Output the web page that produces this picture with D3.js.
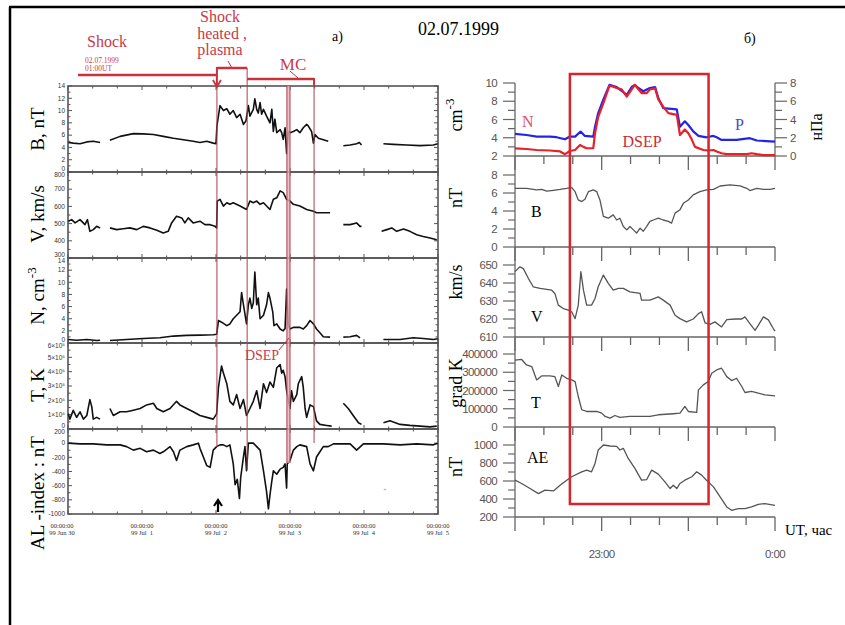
<!DOCTYPE html>
<html>
<head>
<meta charset="utf-8">
<script src="https://cdn.jsdelivr.net/npm/d3@7"></script>
<style>
  body { margin: 0; background: #fff; }
  svg { display: block; }
  text { font-family: "Liberation Serif", "Times New Roman", serif; }
  .tk { font-family: "Liberation Sans", Arial, sans-serif; }
</style>
</head>
<body>
<div id="chart"></div>
<script>
// ---- left panel (a): hours since 30 Jun 1999 00:00 UT, null = data gap
const bField = [[0.1,4.8],[1.7,4.7],[3.9,4.6],[6.1,4.9],[8.2,5.0],[10.4,4.8],[10.5,null],
  [13.6,5.15],[16.9,5.8],[21.2,6.25],[24.4,6.2],[27.7,6.1],[30.9,5.8],[34.2,5.5],[37.4,5.25],[40.6,5.0],[42.8,4.8],[45.0,5.0],[47.1,4.7],[48.0,4.6],
  [48.3,7.5],[49.3,10.8],[50.4,10.0],[51.5,10.3],[52.5,9.4],[53.6,10.0],[54.7,8.85],[55.8,9.4],[56.9,7.75],[57.7,8.3],[58.5,10.8],[59.0,9.1],[60.1,10.2],[60.6,11.9],[61.2,10.2],[61.7,9.6],[62.3,11.3],[62.8,9.4],[63.4,10.2],[64.4,9.1],[65.5,8.0],[66.1,10.2],[66.6,6.6],[67.1,8.6],[67.7,6.4],[68.8,6.9],[69.3,6.4],[69.8,5.3],[70.4,7.2],[70.9,3.0],[71.5,6.6],[72.0,6.4],[73.1,6.6],[74.2,6.9],[75.2,6.4],[76.3,7.2],[77.4,7.75],[77.9,7.5],[79.0,6.6],[79.6,4.7],[80.1,6.1],[81.2,5.5],[82.8,5.25],[84.4,5.0],[84.5,null],
  [89.3,4.26],[91.5,4.4],[93.6,4.6],[94.5,4.8],[95.2,4.4],[95.3,null],
  [102.3,4.6],[105.5,4.5],[109.8,4.4],[114.2,4.3],[118.5,4.4],[119.9,4.6]];

const speed = [[0.1,514],[1.2,523],[2.3,504],[3.9,523],[5.5,494],[6.3,523],[7.1,455],[8.2,465],[9.3,484],[10.4,475],[10.5,null],
  [13.6,475],[15.8,465],[17.9,470],[20.1,475],[22.3,465],[24.4,484],[26.6,475],[28.8,461],[30.9,445],[32.5,455],[33.6,504],[35.2,543],[36.9,533],[37.9,504],[39.0,533],[40.6,504],[42.8,514],[44.4,494],[46.1,494],[47.7,484],[48.2,475],
  [48.4,631],[49.3,641],[50.4,602],[51.5,621],[52.5,612],[53.6,621],[55.8,602],[57.9,582],[59.0,631],[60.1,621],[61.2,631],[62.3,612],[63.4,621],[64.4,602],[65.5,582],[66.6,641],[67.7,650],[68.8,690],[69.8,680],[70.9,641],[72.0,631],[73.1,612],[75.2,602],[77.4,582],[79.6,572],[80.6,563],[82.8,563],[85.0,563],[85.1,null],
  [89.3,494],[91.5,494],[93.6,504],[94.7,484],[95.2,484],[95.3,null],
  [101.7,455],[103.4,465],[105.0,475],[106.6,455],[108.8,469],[110.9,455],[113.1,435],[115.2,425],[117.4,416],[119.6,406]];

const density = [[0.1,0.57],[2.8,0.46],[6.1,0.57],[9.3,0.4],[10.4,0.46],[10.5,null],
  [13.6,0.4],[19.0,0.57],[24.4,0.74],[29.8,0.86],[34.2,1.14],[38.5,1.26],[42.8,1.3],[47.1,1.37],[48.2,1.43],
  [48.8,3.7],[49.8,3.43],[51.5,2.86],[52.5,3.14],[53.6,4.0],[54.7,4.57],[55.8,5.14],[56.3,8.3],[56.9,6.3],[57.9,3.14],[58.5,6.3],[59.0,7.4],[59.6,5.7],[60.1,6.6],[60.6,11.7],[61.2,6.3],[61.7,7.4],[62.3,4.0],[63.4,4.57],[64.4,6.3],[65.0,8.3],[65.5,7.4],[66.4,5.14],[66.8,2.86],[67.7,3.14],[68.8,2.3],[69.8,2.0],[70.4,2.4],[70.9,8.9],[71.5,2.86],[72.0,2.3],[73.1,2.57],[74.2,2.57],[75.2,2.57],[76.3,2.3],[77.4,2.86],[78.5,3.7],[79.6,3.14],[80.6,2.3],[81.7,1.7],[82.8,1.03],[85.0,0.97],[85.1,null],
  [89.3,0.97],[91.5,1.03],[93.6,1.26],[94.7,0.86],[94.8,null],
  [102.3,0.57],[107.7,0.57],[112.0,0.86],[115.2,0.74],[118.5,0.57],[119.9,0.69]];

const temp = [[0.1,106000],[0.6,69000],[1.7,130000],[2.8,81000],[3.9,120000],[5.0,69000],[6.1,94000],[7.1,205000],[7.7,156000],[8.2,69000],[9.3,81000],[10.4,69000],[10.5,null],
  [13.6,143000],[14.7,94000],[16.9,120000],[19.0,120000],[21.2,131000],[23.4,143000],[25.5,168000],[27.7,180000],[28.8,143000],[30.9,120000],[33.1,143000],[35.2,193000],[36.3,168000],[38.5,143000],[40.6,120000],[42.8,94000],[45.0,81000],[47.1,69000],[48.2,106000],
  [48.8,290000],[49.3,365000],[49.8,440000],[50.4,390000],[51.5,316000],[52.5,193000],[53.6,168000],[54.7,240000],[55.8,143000],[56.9,205000],[57.9,94000],[59.0,143000],[60.1,193000],[61.2,267000],[62.3,143000],[63.4,316000],[64.4,254000],[65.5,328000],[66.6,290000],[67.7,427000],[68.8,450000],[69.3,390000],[69.8,410000],[70.4,365000],[70.9,267000],[72.0,143000],[72.5,267000],[73.1,193000],[74.2,240000],[74.7,316000],[75.2,340000],[75.8,365000],[76.3,290000],[76.9,143000],[77.4,81000],[78.5,168000],[79.6,156000],[80.6,57000],[81.7,32000],[83.9,25000],[85.5,20000],[85.6,null],
  [89.3,180000],[90.9,143000],[92.5,94000],[94.2,44000],[95.2,32000],[95.3,null],
  [102.3,44000],[104.4,57000],[107.7,32000],[110.9,25000],[114.2,20000],[117.4,15000],[119.6,20000]];

const alIndex = [[0.1,0],[3.9,-10],[8.2,-10],[12.5,-24],[16.9,-24],[19.0,-49],[21.2,-98],[23.4,-73],[25.5,-122],[27.7,-98],[29.8,-146],[30.9,-122],[33.1,-49],[34.2,-122],[35.2,-244],[36.3,-98],[38.5,-49],[40.6,-24],[42.3,0],[42.8,-73],[43.9,-195],[45.0,-317],[46.1,-341],[47.1,-98],[48.2,-49],[49.3,-24],[50.4,-24],[51.5,-49],[52.5,-24],[53.6,-293],[54.2,-585],[54.9,-512],[55.6,-780],[56.0,-488],[56.9,-195],[57.4,-49],[57.9,-390],[58.5,0],[60.1,0],[61.2,-49],[62.3,-98],[63.4,-390],[64.4,-683],[65.0,-927],[65.5,-732],[66.1,-537],[66.6,-390],[67.7,-439],[68.8,-366],[69.8,-341],[70.4,-293],[70.9,-634],[71.1,-293],[72.0,-244],[73.1,-98],[74.2,-49],[75.2,-24],[77.4,-49],[78.5,-293],[79.6,-390],[80.6,-195],[81.7,-122],[82.8,-49],[84.4,-49],[86.1,-10],[91.5,-10],[93.6,-98],[95.8,-10],[102.3,-10],[107.7,-24],[113.1,-10],[118.5,-24],[119.9,0]];

// shock, end of sheath, DSEP start, DSEP end, end of MC (hours)
const eventHours = [48.3, 58.1, 71.0, 72.0, 79.8];
const dayLabels = ['99 Jun 30', '99 Jul  1', '99 Jul  2', '99 Jul  3', '99 Jul  4', '99 Jul  5'];

// ---- right panel (б): minutes after 22:30 UT, 2 Jul 1999
const nDens = [[0,2.84],[4,2.77],[7.5,2.66],[12.1,2.6],[15.6,2.5],[17.3,2.2],[19,2.55],[20.8,2.66],[22.5,3.2],[23.7,3.0],[24.8,2.85],[27.1,2.85],[27.7,4.5],[28.8,6.3],[30.6,7.8],[32.7,9.7],[34,9.6],[35.2,9.45],[36.9,9.3],[38.7,8.5],[40.4,9.3],[41.5,9.8],[42.7,9.3],[43.8,8.9],[45.6,8.9],[46.7,9.3],[48.5,9.4],[49.6,8.2],[51.3,7.4],[53.1,6.7],[56,6.5],[57.1,4.3],[58.8,4.9],[60,4.5],[61.2,3.8],[62.3,3.0],[65.2,2.66],[66.9,2.6],[68.7,2.66],[69.8,2.5],[71.5,2.3],[73.3,2.2],[76.7,2.2],[80.2,2.2],[81.9,2.3],[83.7,2.2],[86,2.1],[90,2.1]];
const pDyn = [[0,2.42],[4,2.3],[7.5,2.13],[12.1,2.13],[14.4,2.06],[17.3,1.83],[19,2.13],[20.8,2.13],[22.7,2.68],[24.2,2.2],[27.1,2.13],[27.7,3.2],[28.8,4.7],[30.6,6.2],[32.7,7.8],[35.2,7.56],[38.7,6.7],[40.4,7.56],[41.5,7.8],[42.7,7.45],[44.4,7.1],[46.7,7.45],[48.5,7.56],[49.6,6.35],[51.3,5.25],[56,5.1],[57.1,3.2],[58.8,3.8],[60,3.4],[61.7,2.7],[63.5,2.2],[66.3,2.05],[68.7,2.2],[69.8,2.05],[71.5,1.76],[76.7,1.76],[81.3,1.95],[83.7,1.7],[90,1.58]];
const bMag = [[0,6.52],[4,6.52],[7.5,6.34],[9.2,6.4],[11,6.2],[13.3,6.3],[15.6,6.4],[17.9,6.52],[19.6,6.63],[20.8,6.15],[21.9,5.23],[23.1,5.05],[24.2,5.3],[25.4,6.15],[27.1,6.34],[28.3,6.15],[29.4,5.23],[30.6,3.4],[32.3,3.2],[34,3.57],[35.2,3.0],[36.3,3.2],[37.5,2.28],[38.7,1.9],[39.8,2.28],[41,1.9],[42.1,1.55],[43.3,2.1],[44.4,1.75],[45.6,2.3],[46.7,2.84],[47.9,3.0],[49.6,3.2],[51.3,3.0],[53.1,2.84],[54.2,2.65],[55.4,3.76],[57.1,4.13],[58.3,4.87],[60,5.23],[61.7,5.79],[64,6.15],[66.3,6.34],[68.7,6.4],[71,6.78],[74.4,6.9],[77.9,6.8],[80.2,6.52],[81.3,6.27],[83.7,6.52],[86,6.4],[88.3,6.4],[90,6.52]];
const vSw = [[0,646.3],[1.7,649],[2.9,648],[4.6,642.6],[6.3,637.9],[8.7,637],[11,636.5],[12.7,636],[13.8,634.2],[15,627.7],[16.7,625.8],[18.5,624.9],[19.6,624],[20.8,620.2],[21.9,627.7],[22.8,646.3],[23.7,636],[24.8,627.7],[26.5,627.7],[27.7,631.4],[28.8,637.9],[30.6,644.4],[32.3,639.8],[34,636],[35.8,637],[37.5,637],[39.8,635.1],[43.3,634.2],[43.8,630.5],[46.7,630.5],[49.6,632.3],[51.3,630.5],[53.7,627.7],[55.4,622.1],[57.1,620.2],[59.4,618.4],[61.7,620],[63.5,623],[64.6,624],[65.8,617.8],[67.5,617],[69.2,618.4],[71.5,615.6],[73.3,619.7],[76.2,620],[78.5,620],[79.6,621.2],[81.3,617.4],[83.1,613.7],[84.2,616.5],[86,621.2],[87.7,619.5],[89.4,614.7],[90,613.3]];
const tSw = [[0,367000],[2.3,370000],[4,340000],[5.8,331000],[7.5,258000],[9.2,280000],[12.1,280000],[13.8,276000],[15,222000],[16.2,285000],[17.9,267000],[19.6,258000],[20.8,249000],[21.9,167000],[23.1,94500],[24.8,85000],[28.3,85000],[30,76000],[31.2,58000],[32.9,49000],[34.6,63000],[36.3,53000],[39.8,58000],[46.7,58000],[49.6,67000],[54.8,72700],[57.1,76000],[58.8,112700],[60,85000],[62.9,80000],[63.5,203600],[65.2,231000],[66.9,249000],[68.1,294500],[69.8,312700],[71.5,322000],[73.3,276000],[75,254500],[76.7,267000],[78.5,222000],[79.6,189000],[81.9,195000],[84.2,185000],[86.5,176000],[90,171000]];
const aeIndex = [[0,609],[2.3,572],[5.2,516],[8.1,460],[10.4,498],[13.3,490],[15.6,553],[17.9,609],[19.6,647],[23.1,702],[24.8,721],[26.5,702],[27.7,795],[28.8,944],[30.6,1000],[32.9,989],[35.2,985],[36.3,944],[37.5,963],[39.2,851],[41.5,740],[43.8,609],[45.6,616],[47.3,721],[49.6,676],[51.9,591],[53.7,516],[54.8,553],[56,516],[57.1,572],[58.8,609],[61.2,647],[62.9,702],[64.6,665],[66.3,609],[68.7,535],[71,423],[73.3,312],[75,274],[77.3,293],[79.6,293],[81.9,312],[84.2,341],[86.5,349],[90,330]];
const dsepMinutes = [19, 67];

const W = 845, H = 625;
const RED = '#d8242c', ANN = '#c83a48', VLINE = '#a8404c';
const svg = d3.select('#chart').append('svg').attr('width', W).attr('height', H);

// frame
svg.append('line').attr('x1', 9).attr('x2', W).attr('y1', 7).attr('y2', 7).attr('stroke', '#000').attr('stroke-width', 2.5);
svg.append('line').attr('x1', 10).attr('x2', 10).attr('y1', 7).attr('y2', H).attr('stroke', '#000').attr('stroke-width', 2.5);

// ================= left panel =================
const xL = d3.scaleLinear().domain([0, 120]).range([68, 438]);
const T_FMT = d => d === 0 ? '0' : (d / 1e5) + '\u00d710\u2075';
const leftPanels = [
  { data: bField, dom: [0, 14], step: 2, top: 86, h: 86, fmt: d => d },
  { data: speed, dom: [300, 800], step: 100, top: 172, h: 86, fmt: d => d },
  { data: density, dom: [0, 14], step: 2, top: 258, h: 85, fmt: d => d },
  { data: temp, dom: [0, 600000], step: 100000, top: 343, h: 86, fmt: T_FMT },
  { data: alIndex, dom: [-1000, 200], step: 200, top: 429, h: 85, fmt: d => d }
];
const gL = svg.append('g');
leftPanels.forEach((p, pi) => {
  const y = d3.scaleLinear().domain(p.dom).range([p.top + p.h, p.top]);
  const g = gL.append('g');
  // y ticks both sides
  const major = d3.range(p.dom[0], p.dom[1] + p.step / 2, p.step);
  const minor = d3.range(p.dom[0] + p.step / 2, p.dom[1], p.step);
  [[68, 1], [438, -1]].forEach(([x0, s]) => {
    g.selectAll(null).data(major).join('line')
      .attr('x1', x0).attr('x2', x0 + s * 4).attr('y1', d => y(d)).attr('y2', d => y(d))
      .attr('stroke', '#555').attr('stroke-width', 1);
    g.selectAll(null).data(minor).join('line')
      .attr('x1', x0).attr('x2', x0 + s * 2.5).attr('y1', d => y(d)).attr('y2', d => y(d))
      .attr('stroke', '#555').attr('stroke-width', 1);
  });
  // labels at shared panel borders are nudged apart
  const nudge = d => {
    if (d === p.dom[1] && pi > 0) return 3;
    if (d === p.dom[0] && pi < leftPanels.length - 1) return -3;
    return 0;
  };
  g.selectAll(null).data(major).join('text')
    .attr('class', 'tk').attr('x', 65).attr('y', d => y(d) + nudge(d)).attr('dy', '0.35em')
    .attr('text-anchor', 'end').attr('font-size', 6.5).attr('fill', '#333')
    .text(p.fmt);
  // x ticks top and bottom
  const xt = d3.range(0, 121, 8);
  [[p.top, 1], [p.top + p.h, -1]].forEach(([y0, s]) => {
    g.selectAll(null).data(xt).join('line')
      .attr('x1', d => xL(d)).attr('x2', d => xL(d))
      .attr('y1', y0).attr('y2', d => y0 + s * (d % 24 === 0 ? 4 : 2.5))
      .attr('stroke', '#555').attr('stroke-width', 1);
  });
  g.append('rect').attr('x', 68).attr('y', p.top).attr('width', 370).attr('height', p.h)
    .attr('fill', 'none').attr('stroke', '#555').attr('stroke-width', 1.6);
  g.append('path').datum(p.data)
    .attr('d', d3.line().defined(d => d[1] != null).x(d => xL(d[0])).y(d => y(d[1])))
    .attr('fill', 'none').attr('stroke', '#111').attr('stroke-width', 1.6).attr('stroke-linejoin', 'round');
});

// day labels
const dayG = gL.append('g').attr('class', 'tk').attr('font-size', 6.5).attr('fill', '#333').attr('text-anchor', 'middle');
dayLabels.forEach((lab, i) => {
  dayG.append('text').attr('x', xL(i * 24) - (i === 0 ? 6 : 0)).attr('y', 528).text('00:00:00');
  dayG.append('text').attr('x', xL(i * 24) - (i === 0 ? 6 : 0)).attr('y', 535).attr('xml:space', 'preserve').text(lab);
});

// left axis titles
const yTitle = (x, y, parts, size) => {
  const t = svg.append('text').attr('transform', `translate(${x},${y}) rotate(-90)`)
    .attr('text-anchor', 'middle').attr('font-size', size).attr('fill', '#000');
  parts.forEach(([s, sup]) => {
    const ts = t.append('tspan').text(s);
    if (sup) ts.attr('font-size', size * 0.7).attr('dy', -size * 0.4);
  });
  return t;
};
yTitle(44, 129, [['B,  nT']], 19);
yTitle(44, 214, [['V, km/s']], 19);
const nt = svg.append('text').attr('transform', 'translate(44,296) rotate(-90)').attr('text-anchor', 'middle').attr('font-size', 19);
nt.append('tspan').text('N, cm');
nt.append('tspan').attr('font-size', 13).attr('dy', -8).text('-3');
yTitle(44, 385, [['T, K']], 19);
yTitle(44, 493, [['AL -index : nT']], 19);

// event lines
const ex = eventHours.map(xL);
svg.append('rect').attr('x', ex[2]).attr('y', 86).attr('width', ex[3] - ex[2]).attr('height', 377)
  .attr('fill', '#eab0b6').attr('opacity', 0.8);
const vEnds = [447, 470, 463, 463, 443];
const vStarts = [86, 68, 86, 86, 79];
ex.forEach((x, i) => {
  svg.append('line').attr('x1', x).attr('x2', x).attr('y1', vStarts[i]).attr('y2', vEnds[i])
    .attr('stroke', VLINE).attr('stroke-width', 1);
});

// top annotations
const ann = svg.append('g').attr('fill', ANN);
ann.append('text').attr('x', 87).attr('y', 47).attr('font-size', 16).text('Shock');
ann.append('text').attr('x', 85).attr('y', 63).attr('font-size', 7.5).text('02.07.1999');
ann.append('text').attr('x', 85).attr('y', 71).attr('font-size', 7.5).text('01:00UT');
ann.append('text').attr('x', 220).attr('y', 22).attr('text-anchor', 'middle').attr('font-size', 16).text('Shock');
ann.append('text').attr('x', 222).attr('y', 39).attr('text-anchor', 'middle').attr('font-size', 16).text('heated ,');
ann.append('text').attr('x', 220).attr('y', 55).attr('text-anchor', 'middle').attr('font-size', 16).text('plasma');
ann.append('text').attr('x', 293).attr('y', 70).attr('text-anchor', 'middle').attr('font-size', 17).text('MC');
ann.append('text').attr('x', 262).attr('y', 360).attr('text-anchor', 'middle').attr('font-size', 14).text('DSEP');
const aLine = (x1, y1, x2, y2, w) => svg.append('line').attr('x1', x1).attr('y1', y1).attr('x2', x2).attr('y2', y2)
  .attr('stroke', '#c8323c').attr('stroke-width', w);
aLine(78, 75, ex[0], 75, 2.5);
aLine(ex[0], 75, ex[0], 86, 2);
svg.append('path').attr('d', `M${ex[0] - 4},80 L${ex[0]},87 L${ex[0] + 4},80`).attr('fill', 'none').attr('stroke', '#c8323c').attr('stroke-width', 1.8);
aLine(ex[0], 68, ex[1], 68, 2.5);
aLine(ex[0], 67, ex[0], 75, 2);
aLine(228, 61, 232, 68, 1);
aLine(ex[1], 79, ex[4], 79, 2.5);
aLine(ex[4], 78, ex[4], 86, 2);
aLine(290, 71, 298, 78, 1);
aLine(279, 350, 289, 338, 1);

svg.append('text').attr('x', 332).attr('y', 41).attr('font-size', 14).text('a)');
svg.append('text').attr('x', 418).attr('y', 35).attr('font-size', 18).text('02.07.1999');
svg.append('text').attr('x', 744).attr('y', 43).attr('font-size', 14).text('б)');

// arrow under AL
svg.append('path').attr('d', 'M214,506 L218,500 L222,506 M218,500 L218,512')
  .attr('fill', 'none').attr('stroke', '#000').attr('stroke-width', 2.2);
svg.append('text').attr('x', 385).attr('y', 492).attr('font-size', 6).attr('fill', '#999').attr('text-anchor', 'middle').text('+');

// ================= right panel =================
const xR = d3.scaleLinear().domain([0, 90]).range([515, 775]);
const AX = '#666', LBL = '#555';
const rightPanels = [
  { dom: [2, 10], range: [156, 83], step: 2 },
  { dom: [0, 8], range: [247, 175], step: 2 },
  { dom: [610, 650], range: [337, 265], step: 10 },
  { dom: [0, 400000], range: [427, 354], step: 100000 },
  { dom: [200, 1000], range: [517, 445], step: 200 }
];
const yR = rightPanels.map(p => d3.scaleLinear().domain(p.dom).range(p.range));
const yP = d3.scaleLinear().domain([0, 8]).range([156, 83]);
const gR = svg.append('g');
gR.append('line').attr('x1', 515).attr('x2', 515).attr('y1', 83).attr('y2', 517).attr('stroke', AX).attr('stroke-width', 1.3);
gR.append('line').attr('x1', 775).attr('x2', 775).attr('y1', 83).attr('y2', 156).attr('stroke', AX).attr('stroke-width', 1.3);
rightPanels.forEach((p, i) => {
  const y = yR[i];
  const major = d3.range(p.dom[0], p.dom[1] + p.step / 2, p.step);
  const minor = d3.range(p.dom[0] + p.step / 2, p.dom[1], p.step);
  gR.selectAll(null).data(major).join('line')
    .attr('x1', 503).attr('x2', 515).attr('y1', d => y(d)).attr('y2', d => y(d)).attr('stroke', AX).attr('stroke-width', 1.2);
  gR.selectAll(null).data(minor).join('line')
    .attr('x1', 508).attr('x2', 515).attr('y1', d => y(d)).attr('y2', d => y(d)).attr('stroke', AX).attr('stroke-width', 1.2);
  gR.selectAll(null).data(major).join('text')
    .attr('class', 'tk').attr('x', 497).attr('y', d => y(d)).attr('dy', '0.36em')
    .attr('text-anchor', 'end').attr('font-size', 11.5).attr('fill', LBL).attr('letter-spacing', -0.6)
    .text(d => d);
  // time axis
  const yb = p.range[0];
  gR.append('line').attr('x1', 515).attr('x2', 775).attr('y1', yb).attr('y2', yb).attr('stroke', AX).attr('stroke-width', 1.3);
  gR.selectAll(null).data(d3.range(0, 91, 10)).join('line')
    .attr('x1', d => xR(d)).attr('x2', d => xR(d)).attr('y1', yb)
    .attr('y2', d => yb + (d % 30 === 0 ? 14 : 8)).attr('stroke', AX).attr('stroke-width', 1.3);
});
// right pressure axis
const pMajor = d3.range(0, 9, 2), pMinor = d3.range(1, 8, 2);
gR.selectAll(null).data(pMajor).join('line')
  .attr('x1', 775).attr('x2', 787).attr('y1', d => yP(d)).attr('y2', d => yP(d)).attr('stroke', AX).attr('stroke-width', 1.2);
gR.selectAll(null).data(pMinor).join('line')
  .attr('x1', 775).attr('x2', 782).attr('y1', d => yP(d)).attr('y2', d => yP(d)).attr('stroke', AX).attr('stroke-width', 1.2);
gR.selectAll(null).data(pMajor).join('text')
  .attr('class', 'tk').attr('x', 790).attr('y', d => yP(d)).attr('dy', '0.36em')
  .attr('font-size', 11.5).attr('fill', LBL).text(d => d);

// time labels
gR.append('text').attr('class', 'tk').attr('x', xR(30)).attr('y', 558).attr('text-anchor', 'middle')
  .attr('font-size', 11.5).attr('fill', LBL).attr('letter-spacing', -0.6).text('23:00');
gR.append('text').attr('class', 'tk').attr('x', xR(90)).attr('y', 558).attr('text-anchor', 'middle')
  .attr('font-size', 11.5).attr('fill', LBL).attr('letter-spacing', -0.6).text('0:00');
gR.append('text').attr('x', 785).attr('y', 535).attr('font-size', 15).text('UT, час');

// series
const lineR = y => d3.line().x(d => xR(d[0])).y(d => y(d[1]));
const drawR = (data, y, color, w) => gR.append('path').datum(data).attr('d', lineR(y))
  .attr('fill', 'none').attr('stroke', color).attr('stroke-width', w).attr('stroke-linejoin', 'round');
drawR(pDyn, yP, '#2424e6', 2.2);
drawR(nDens, yR[0], '#e8202a', 2.2);
drawR(bMag, yR[1], '#555', 1.3);
drawR(vSw, yR[2], '#555', 1.3);
drawR(tSw, yR[3], '#555', 1.3);
drawR(aeIndex, yR[4], '#555', 1.3);

// right axis titles
const rt = svg.append('text').attr('transform', 'translate(462,115) rotate(-90)').attr('text-anchor', 'middle').attr('font-size', 18);
rt.append('tspan').text('cm');
rt.append('tspan').attr('font-size', 13).attr('dy', -8).text('-3');
yTitle(462, 198, [['nT']], 18);
yTitle(462, 282, [['km/s']], 18);
yTitle(462, 383, [['grad K']], 18);
yTitle(462, 467, [['nT']], 18);
yTitle(822, 127, [['нПа']], 16);

// in-plot labels
svg.append('text').attr('x', 522).attr('y', 127).attr('font-size', 16).attr('fill', '#e0506a').text('N');
svg.append('text').attr('x', 735).attr('y', 130).attr('font-size', 16).attr('fill', '#4a4ac8').text('P');
svg.append('text').attr('x', 642).attr('y', 147).attr('text-anchor', 'middle').attr('font-size', 16).attr('fill', '#d02a30').text('DSEP');
svg.append('text').attr('x', 531).attr('y', 217).attr('font-size', 16).text('B');
svg.append('text').attr('x', 531).attr('y', 322).attr('font-size', 16).text('V');
svg.append('text').attr('x', 531).attr('y', 408).attr('font-size', 16).text('T');
svg.append('text').attr('x', 527).attr('y', 463).attr('font-size', 16).text('AE');

// DSEP box
svg.append('rect').attr('x', xR(dsepMinutes[0])).attr('y', 74)
  .attr('width', xR(dsepMinutes[1]) - xR(dsepMinutes[0])).attr('height', 430)
  .attr('fill', 'none').attr('stroke', RED).attr('stroke-width', 2.5);
</script>
</body>
</html>
